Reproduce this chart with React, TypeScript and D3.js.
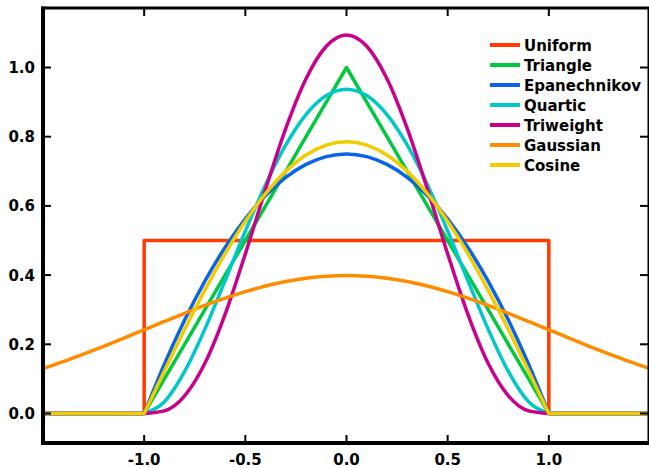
import * as d3 from "d3";

// sample points for the compact kernels (support -1..1)
const kernelX = [
  -1.0, -0.9, -0.8, -0.7, -0.6, -0.5, -0.4, -0.3, -0.2, -0.1, 0.0,
  0.1, 0.2, 0.3, 0.4, 0.5, 0.6, 0.7, 0.8, 0.9, 1.0,
];
const triangleY = [
  0, 0.1, 0.2, 0.3, 0.4, 0.5, 0.6, 0.7, 0.8, 0.9, 1.0,
  0.9, 0.8, 0.7, 0.6, 0.5, 0.4, 0.3, 0.2, 0.1, 0,
];
const epanechnikovY = [
  0, 0.1425, 0.27, 0.3825, 0.48, 0.5625, 0.63, 0.6825, 0.72, 0.7425, 0.75,
  0.7425, 0.72, 0.6825, 0.63, 0.5625, 0.48, 0.3825, 0.27, 0.1425, 0,
];
const quarticY = [
  0, 0.0338, 0.1215, 0.2438, 0.384, 0.5273, 0.6615, 0.7763, 0.864, 0.9188, 0.9375,
  0.9188, 0.864, 0.7763, 0.6615, 0.5273, 0.384, 0.2438, 0.1215, 0.0338, 0,
];
const triweightY = [
  0, 0.0075, 0.051, 0.1451, 0.2867, 0.4614, 0.6483, 0.8242, 0.9677, 1.0613, 1.0938,
  1.0613, 0.9677, 0.8242, 0.6483, 0.4614, 0.2867, 0.1451, 0.051, 0.0075, 0,
];
const cosineY = [
  0, 0.1229, 0.2427, 0.3566, 0.4616, 0.5554, 0.6354, 0.6998, 0.747, 0.7757, 0.7854,
  0.7757, 0.747, 0.6998, 0.6354, 0.5554, 0.4616, 0.3566, 0.2427, 0.1229, 0,
];

// gaussian over the whole visible range
const gaussX = [
  -1.5, -1.4, -1.3, -1.2, -1.1, -1.0, -0.9, -0.8, -0.7, -0.6, -0.5, -0.4, -0.3, -0.2, -0.1, 0.0,
  0.1, 0.2, 0.3, 0.4, 0.5, 0.6, 0.7, 0.8, 0.9, 1.0, 1.1, 1.2, 1.3, 1.4, 1.5,
];
const gaussY = [
  0.1295, 0.1497, 0.1714, 0.1942, 0.2179, 0.242, 0.2661, 0.2897, 0.3123, 0.3332, 0.3521,
  0.3683, 0.3814, 0.391, 0.397, 0.3989, 0.397, 0.391, 0.3814, 0.3683, 0.3521, 0.3332,
  0.3123, 0.2897, 0.2661, 0.242, 0.2179, 0.1942, 0.1714, 0.1497, 0.1295,
];

// uniform is a box
const uniformX = [-1.5, -1.0, -1.0, 1.0, 1.0, 1.5];
const uniformY = [0, 0, 0.5, 0.5, 0, 0];

const xTicks = [-1.0, -0.5, 0.0, 0.5, 1.0];
const yTicks = [0.0, 0.2, 0.4, 0.6, 0.8, 1.0];

const series = [
  { name: "Uniform", color: "#ff3b00", xs: uniformX, ys: uniformY, kind: "box" },
  { name: "Triangle", color: "#00c840", xs: kernelX, ys: triangleY, kind: "linear" },
  { name: "Epanechnikov", color: "#0a64e6", xs: kernelX, ys: epanechnikovY, kind: "smooth" },
  { name: "Quartic", color: "#00c8c8", xs: kernelX, ys: quarticY, kind: "smooth" },
  { name: "Triweight", color: "#c8008c", xs: kernelX, ys: triweightY, kind: "smooth" },
  { name: "Gaussian", color: "#ff8c00", xs: gaussX, ys: gaussY, kind: "full" },
  { name: "Cosine", color: "#f0cc00", xs: kernelX, ys: cosineY, kind: "smooth" },
];

export default function App() {
  const width = 649;
  const height = 468;
  const left = 43;
  const right = 650;
  const top = 8;
  const bottom = 443;

  const x = d3.scaleLinear().domain([-1.5, 1.5]).range([left, right]);
  const y = d3.scaleLinear().domain([-0.0853, 1.172]).range([bottom, top]);

  function pathFor(s: any) {
    const pts: [number, number][] = s.xs.map((v: number, i: number) => [v, s.ys[i]]);
    if (s.kind === "box" || s.kind === "linear") {
      const line = d3.line<[number, number]>()
        .x((d) => x(d[0]))
        .y((d) => y(d[1]));
      if (s.kind === "box") return line(pts);
      const inner = line(pts) as string;
      return `M${x(-1.5)},${y(0)}L` + inner.slice(1) + `L${x(1.5)},${y(0)}`;
    }
    const line = d3.line<[number, number]>()
      .x((d) => x(d[0]))
      .y((d) => y(d[1]))
      .curve(d3.curveMonotoneX);
    const inner = line(pts) as string;
    if (s.kind === "full") return inner;
    return `M${x(-1.5)},${y(0)}L` + inner.slice(1) + `L${x(1.5)},${y(0)}`;
  }

  const font = "'DejaVu Sans', sans-serif";

  return (
    <svg
      width={width}
      height={height}
      style={{ position: "absolute", left: 0, top: 0, background: "#fff" }}
    >
      <defs>
        <clipPath id="plot">
          <rect x={left} y={top} width={right - left} height={bottom - top} />
        </clipPath>
      </defs>

      <g clipPath="url(#plot)">
        {series.map((s) => (
          <path
            key={s.name}
            d={pathFor(s) as string}
            fill="none"
            stroke={s.color}
            strokeWidth={3.5}
            strokeLinejoin="round"
          />
        ))}
      </g>

      {/* ticks */}
      <g stroke="#000" strokeWidth={2}>
        {xTicks.map((t) => (
          <g key={"xt" + t}>
            <line x1={x(t)} x2={x(t)} y1={bottom} y2={bottom - 8} />
            <line x1={x(t)} x2={x(t)} y1={top} y2={top + 8} />
          </g>
        ))}
        {yTicks.map((t) => (
          <g key={"yt" + t}>
            <line x1={left} x2={left + 8} y1={y(t)} y2={y(t)} />
            <line x1={648} x2={640} y1={y(t)} y2={y(t)} />
          </g>
        ))}
      </g>

      {/* frame */}
      <line x1={left} x2={left} y1={top - 1.5} y2={bottom + 2} stroke="#000" strokeWidth={4} />
      <line x1={left - 2} x2={width} y1={bottom} y2={bottom} stroke="#000" strokeWidth={4} />
      <line x1={left - 2} x2={width} y1={top} y2={top} stroke="#000" strokeWidth={3} />
      <line x1={648.5} x2={648.5} y1={top} y2={bottom} stroke="#000" strokeWidth={2} />

      {/* tick labels */}
      <g fontFamily={font} fontWeight="bold" fontSize={15} fill="#000">
        {xTicks.map((t) => (
          <text key={"xl" + t} x={x(t)} y={465} textAnchor="middle">
            {t.toFixed(1)}
          </text>
        ))}
        {yTicks.map((t) => (
          <text key={"yl" + t} x={35} y={y(t) + 5.5} textAnchor="end">
            {t.toFixed(1)}
          </text>
        ))}
      </g>

      {/* legend */}
      <g fontFamily={font} fontSize={15} fontWeight="bold" fill="#000">
        {series.map((s, i) => (
          <g key={"lg" + s.name} transform={`translate(490, ${45 + i * 20})`}>
            <line x1={0} x2={30} y1={0} y2={0} stroke={s.color} strokeWidth={4} />
            <text x={34} y={5.5}>
              {s.name}
            </text>
          </g>
        ))}
      </g>
    </svg>
  );
}
